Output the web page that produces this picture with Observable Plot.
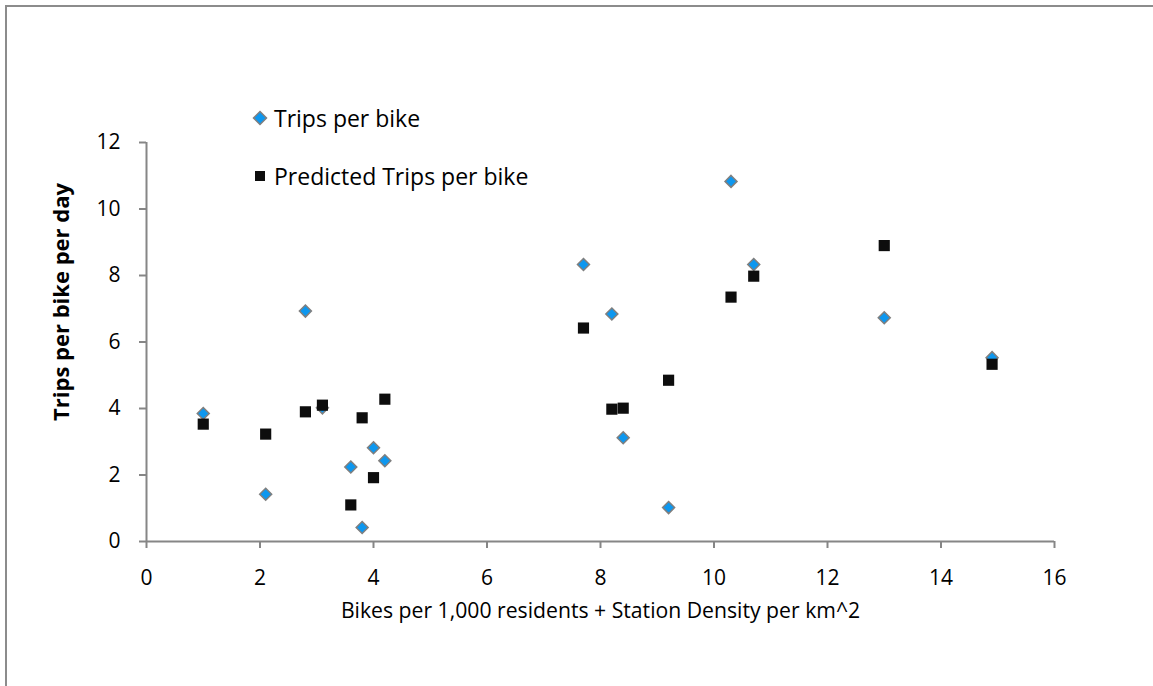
<!DOCTYPE html>
<html><head><meta charset="utf-8">
<script src="https://cdn.jsdelivr.net/npm/d3@7"></script>
<script src="https://cdn.jsdelivr.net/npm/@observablehq/plot@0.6"></script>
<style>
body{margin:0;background:#fff;}
#wrap{position:relative;width:1153px;height:686px;overflow:hidden;font-family:"Open Sans",sans-serif;}
#border{position:absolute;left:5px;top:5px;width:1300px;height:900px;border:2px solid #8c8c8c;box-sizing:border-box;}
#chart{position:absolute;left:0;top:0;}
#legend{position:absolute;left:252px;top:103px;font-size:23px;color:#000;}
.li{display:flex;align-items:center;height:30px;margin-bottom:28px;}
.li svg{margin-right:6px;}
</style></head>
<body><div id="wrap"><div id="border"></div><div id="chart"></div><div id="legend"></div></div>
<script>
const xValues = [1.0, 2.1, 2.8, 3.1, 3.6, 3.8, 4.0, 4.2, 7.7, 8.2, 8.4, 9.2, 10.3, 10.7, 13.0, 14.9];
const tripsPerBike = [3.85, 1.42, 6.93, 4.02, 2.24, 0.42, 2.82, 2.43, 8.33, 6.84, 3.12, 1.02, 10.83, 8.33, 6.73, 5.53];
const predictedTrips = [3.53, 3.23, 3.9, 4.1, 1.1, 3.72, 1.92, 4.28, 6.42, 3.98, 4.01, 4.85, 7.35, 7.98, 8.9, 5.33];
const seriesNames = ["Trips per bike", "Predicted Trips per bike"];
const xTicks = [0, 2, 4, 6, 8, 10, 12, 14, 16];
const yTicks = [0, 2, 4, 6, 8, 10, 12];
const xLabel = "Bikes per 1,000 residents + Station Density per km^2";
const yLabel = "Trips per bike per day";

const actual = xValues.map((x, i) => ({x, y: tripsPerBike[i], series: seriesNames[0]}));
const predicted = xValues.map((x, i) => ({x, y: predictedTrips[i], series: seriesNames[1]}));

const axisGray = "#868686";
const chart = Plot.plot({
  width: 1153, height: 686,
  marginLeft: 146, marginRight: 99, marginTop: 142, marginBottom: 145,
  style: {fontFamily: "'Open Sans', sans-serif", fontSize: "20px", color: "#000", background: "transparent", overflow: "visible"},
  x: {domain: [0, 16]},
  y: {domain: [0, 12]},
  marks: [
    Plot.axisX({ticks: xTicks, tickSize: 7, tickPadding: 22, stroke: axisGray, strokeWidth: 2, fill: "#000", label: null, tickFormat: d => String(d), fontSize: 21}),
    Plot.axisY({ticks: yTicks, tickSize: 7, tickPadding: 19, stroke: axisGray, strokeWidth: 2, fill: "#000", label: null, tickFormat: d => String(d), fontSize: 21}),
    Plot.ruleY([0], {stroke: axisGray, strokeWidth: 2}),
    Plot.ruleX([0], {stroke: axisGray, strokeWidth: 2}),
    Plot.text([yLabel], {frameAnchor: "left", textAnchor: "middle", dx: -85, dy: -40, rotate: -90, fontWeight: "bold", fontSize: 22, fill: "#000"}),
    Plot.text([xLabel], {frameAnchor: "bottom", dy: 76, fontSize: 21.2, fill: "#000"}),
    Plot.dot(actual, {x: "x", y: "y", symbol: "diamond2", fill: "#0d97ef", stroke: "#7f7f7f", strokeWidth: 1.5, r: 5.4}),
    Plot.dot(predicted, {x: "x", y: "y", symbol: "square", fill: "#0d0d0d", r: 6.3})
  ]
});
document.getElementById("chart").appendChild(chart);

const legend = document.getElementById("legend");
const symbols = [
  `<svg width="16" height="16"><path d="M8,1.5L14.5,8L8,14.5L1.5,8Z" fill="#0d97ef" stroke="#7f7f7f" stroke-width="1.5"/></svg>`,
  `<svg width="16" height="16"><rect x="3" y="3" width="10" height="10" fill="#0d0d0d"/></svg>`
];
seriesNames.forEach((name, i) => {
  const d = document.createElement("div");
  d.className = "li";
  d.innerHTML = symbols[i] + `<span>${name}</span>`;
  legend.appendChild(d);
});
</script></body></html>
